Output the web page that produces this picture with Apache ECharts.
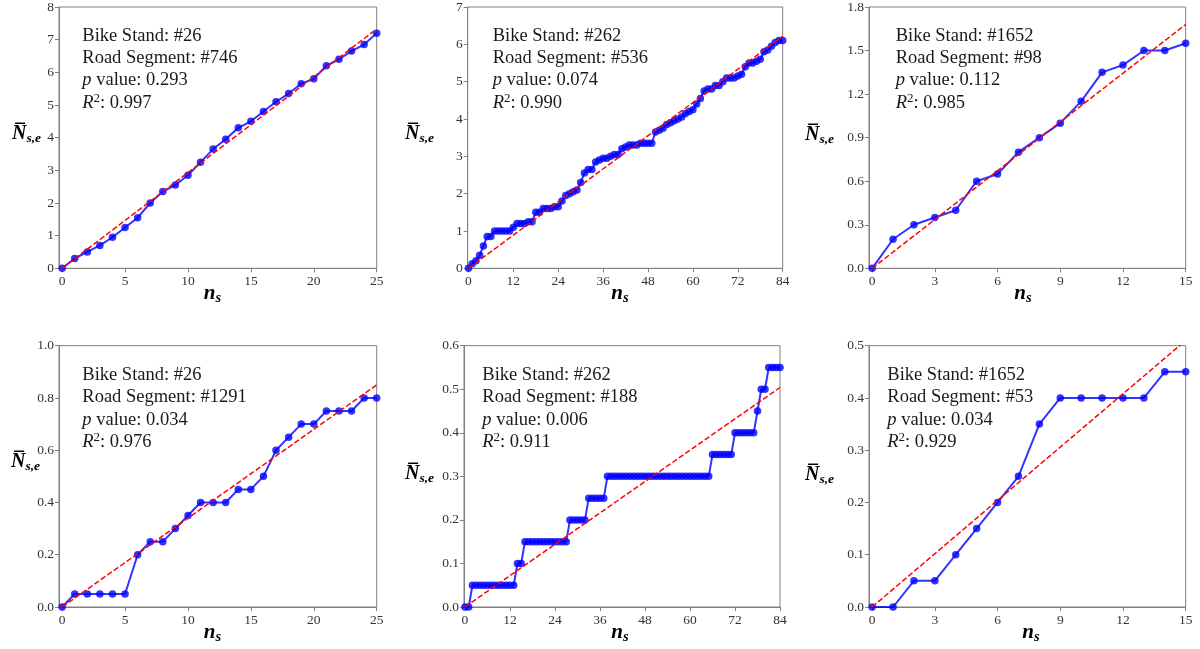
<!DOCTYPE html>
<html><head><meta charset="utf-8">
<script src="https://cdn.jsdelivr.net/npm/echarts@6/dist/echarts.min.js"></script>
<style>html,body{margin:0;padding:0;background:#fff}#c{width:1200px;height:649px}</style>
</head><body><div id="c"></div>
<script>
// ---------- data ----------
const bikeStands   = ['#26', '#262', '#1652', '#26', '#262', '#1652'];
const roadSegments = ['#746', '#536', '#98', '#1291', '#188', '#53'];
const pValues      = ['0.293', '0.074', '0.112', '0.034', '0.006', '0.034'];
const rSquared     = ['0.997', '0.990', '0.985', '0.976', '0.911', '0.929'];
const fitSlopes    = [0.293, 0.074, 0.112, 0.034, 0.006, 0.034];

const xTicks25 = [0, 5, 10, 15, 20, 25];
const xTicks84 = [0, 12, 24, 36, 48, 60, 72, 84];
const xTicks15 = [0, 3, 6, 9, 12, 15];

const yTicksA = [0, 1, 2, 3, 4, 5, 6, 7, 8];
const yTicksB = [0, 1, 2, 3, 4, 5, 6, 7];
const yTicksC = [0, 0.3, 0.6, 0.9, 1.2, 1.5, 1.8];
const yTicksD = [0, 0.2, 0.4, 0.6, 0.8, 1.0];
const yTicksE = [0, 0.1, 0.2, 0.3, 0.4, 0.5, 0.6];
const yTicksF = [0, 0.1, 0.2, 0.3, 0.4, 0.5];

// mean N_{s,e} for n_s = 0,1,2,...
const stand26seg746 = [0, 0.3, 0.5, 0.7, 0.95, 1.25, 1.55, 2.0, 2.35, 2.55, 2.85, 3.25, 3.65,
  3.95, 4.3, 4.5, 4.8, 5.1, 5.35, 5.65, 5.8, 6.2, 6.4, 6.65, 6.85, 7.2];
const stand262seg536 = [0, 0.12, 0.2, 0.35, 0.6, 0.85, 0.85, 1.0, 1.0, 1.0, 1.0, 1.0, 1.1,
  1.2, 1.2, 1.2, 1.25, 1.25, 1.5, 1.5, 1.6, 1.6, 1.6, 1.65, 1.65, 1.8, 1.95, 2.0, 2.05, 2.1,
  2.3, 2.55, 2.65, 2.65, 2.85, 2.9, 2.95, 2.95, 3.0, 3.05, 3.05, 3.2, 3.25, 3.3, 3.3, 3.3,
  3.35, 3.35, 3.35, 3.35, 3.65, 3.7, 3.75, 3.85, 3.9, 3.95, 4.0, 4.05, 4.15, 4.2, 4.25, 4.4,
  4.55, 4.75, 4.8, 4.8, 4.9, 4.9, 5.0, 5.1, 5.1, 5.1, 5.15, 5.2, 5.4, 5.5, 5.5, 5.55, 5.6,
  5.8, 5.85, 5.95, 6.05, 6.1, 6.1];
const stand1652seg98 = [0, 0.2, 0.3, 0.35, 0.4, 0.6, 0.65, 0.8, 0.9, 1.0, 1.15, 1.35, 1.4,
  1.5, 1.5, 1.55];
const stand26seg1291 = [0, 0.05, 0.05, 0.05, 0.05, 0.05, 0.2, 0.25, 0.25, 0.3, 0.35, 0.4, 0.4,
  0.4, 0.45, 0.45, 0.5, 0.6, 0.65, 0.7, 0.7, 0.75, 0.75, 0.75, 0.8, 0.8];
const stand262seg188 = [0, 0,
  0.05, 0.05, 0.05, 0.05, 0.05, 0.05, 0.05, 0.05, 0.05, 0.05, 0.05, 0.05,
  0.1, 0.1,
  0.15, 0.15, 0.15, 0.15, 0.15, 0.15, 0.15, 0.15, 0.15, 0.15, 0.15, 0.15,
  0.2, 0.2, 0.2, 0.2, 0.2,
  0.25, 0.25, 0.25, 0.25, 0.25,
  0.3, 0.3, 0.3, 0.3, 0.3, 0.3, 0.3, 0.3, 0.3, 0.3, 0.3, 0.3, 0.3, 0.3,
  0.3, 0.3, 0.3, 0.3, 0.3, 0.3, 0.3, 0.3, 0.3, 0.3, 0.3, 0.3, 0.3, 0.3,
  0.35, 0.35, 0.35, 0.35, 0.35, 0.35,
  0.4, 0.4, 0.4, 0.4, 0.4, 0.4,
  0.45,
  0.5, 0.5,
  0.55, 0.55, 0.55, 0.55];
const stand1652seg53 = [0, 0, 0.05, 0.05, 0.1, 0.15, 0.2, 0.25, 0.35, 0.4, 0.4, 0.4, 0.4,
  0.4, 0.45, 0.45];

// ---------- layout / style ----------
const panels = [
  {vals: stand26seg746,  xt: xTicks25, yt: yTicksA, dec: 0, xmin: -0.25},
  {vals: stand262seg536, xt: xTicks84, yt: yTicksB, dec: 0, xmin: -0.2},
  {vals: stand1652seg98, xt: xTicks15, yt: yTicksC, dec: 1, xmin: -0.15},
  {vals: stand26seg1291, xt: xTicks25, yt: yTicksD, dec: 1, xmin: -0.25},
  {vals: stand262seg188, xt: xTicks84, yt: yTicksE, dec: 1, xmin: -0.25},
  {vals: stand1652seg53, xt: xTicks15, yt: yTicksF, dec: 1, xmin: -0.15}
];
const grids = [
  {left: 59,    top: 6.7,   width: 317.7, height: 261.6},
  {left: 467.7, top: 6.7,   width: 315,   height: 261.6},
  {left: 869,   top: 6.7,   width: 316.7, height: 261.6},
  {left: 59,    top: 345.7, width: 317.7, height: 261.3},
  {left: 464,   top: 345.7, width: 316,   height: 261.3},
  {left: 869,   top: 345.7, width: 316.7, height: 261.3}
];
const annotPos = [[82.3, 24.5], [492.7, 24.5], [895.7, 24.5], [82.3, 363.8], [482.3, 363.8], [887.3, 363.8]];
const yLabPos  = [[12, 134], [405, 134], [805, 135], [11, 462], [405, 474], [805, 475]];
const xLabPos  = [[212.5, 294], [620, 294], [1023, 294], [212.5, 633], [620, 633], [1031, 633]];

const SERIF = '"Liberation Serif", "Times New Roman", serif';
const SPINE = '#808080';
const BLUE = 'rgba(0,0,255,0.8)';

const option = {
  animation: false,
  backgroundColor: '#fff',
  grid: grids.map(g => Object.assign({show: true, borderColor: SPINE, borderWidth: 1, backgroundColor: 'transparent'}, g)),
  xAxis: panels.map((p, i) => ({
    gridIndex: i, type: 'value', min: p.xmin, max: p.xt[p.xt.length - 1],
    axisLine: {show: true, onZero: false, lineStyle: {color: SPINE, width: 1}},
    axisTick: {show: true, inside: false, length: 4, customValues: p.xt, lineStyle: {color: SPINE}},
    axisLabel: {customValues: p.xt, fontFamily: SERIF, fontSize: 13.5, color: '#333', margin: 6,
      formatter: v => String(Math.round(v))},
    splitLine: {show: false}
  })),
  yAxis: panels.map((p, i) => ({
    gridIndex: i, type: 'value', min: p.yt[0], max: p.yt[p.yt.length - 1],
    interval: p.yt[1] - p.yt[0],
    axisLine: {show: true, onZero: false, lineStyle: {color: SPINE, width: 1}},
    axisTick: {show: true, inside: false, length: 4, lineStyle: {color: SPINE}},
    axisLabel: {fontFamily: SERIF, fontSize: 13.5, color: '#333', margin: 5,
      formatter: v => v.toFixed(p.dec)},
    splitLine: {show: false}
  })),
  series: [],
  graphic: []
};

panels.forEach((p, i) => {
  option.series.push({
    type: 'line', xAxisIndex: i, yAxisIndex: i, z: 2,
    data: p.vals.map((v, k) => [k, v]),
    symbol: 'circle', symbolSize: 7.5, showSymbol: true,
    lineStyle: {color: BLUE, width: 2},
    itemStyle: {color: BLUE, borderWidth: 0},
    emphasis: {disabled: true}
  });
  const xmax = p.xt[p.xt.length - 1];
  option.series.push({
    type: 'line', xAxisIndex: i, yAxisIndex: i, z: 3, clip: true,
    data: [[0, 0], [xmax, fitSlopes[i] * xmax]],
    symbol: 'none',
    lineStyle: {color: '#ff0000', width: 1.5, type: [5.5, 2.4]},
    emphasis: {disabled: true}
  });

  const base = {fontFamily: SERIF, fontSize: 18.5, lineHeight: 22.4, fill: '#1a1a1a', color: '#1a1a1a'};
  option.graphic.push({
    type: 'text', x: annotPos[i][0], y: annotPos[i][1], z: 10,
    style: {
      text: '{a|Bike Stand: ' + bikeStands[i] + '}\n{a|Road Segment: ' + roadSegments[i] + '}\n' +
            '{i|p}{a| value: ' + pValues[i] + '}\n{i|R}{sup|2}{a|: ' + rSquared[i] + '}',
      align: 'left', verticalAlign: 'top',
      rich: {
        a: base,
        i: Object.assign({}, base, {fontStyle: 'italic'}),
        sup: Object.assign({}, base, {fontSize: 13, lineHeight: 15, verticalAlign: 'top'})
      }
    }
  });
  const lab = {fontFamily: SERIF, fontWeight: 'bold', fontStyle: 'italic', fill: '#000', color: '#000'};
  option.graphic.push({
    type: 'text', x: yLabPos[i][0], y: yLabPos[i][1], z: 10,
    style: {
      text: '{n|N\u0305}{s|s,e}', align: 'left', verticalAlign: 'middle',
      rich: {
        n: Object.assign({}, lab, {fontSize: 20, lineHeight: 24}),
        s: Object.assign({}, lab, {fontSize: 13.5, lineHeight: 12, verticalAlign: 'bottom'})
      }
    }
  });
  option.graphic.push({
    type: 'text', x: xLabPos[i][0], y: xLabPos[i][1], z: 10,
    style: {
      text: '{n|n}{s|s}', align: 'center', verticalAlign: 'middle',
      rich: {
        n: Object.assign({}, lab, {fontSize: 21, lineHeight: 24}),
        s: Object.assign({}, lab, {fontSize: 14.5, lineHeight: 12, verticalAlign: 'bottom'})
      }
    }
  });
});

const chart = echarts.init(document.getElementById('c'), null, {renderer: 'canvas'});
chart.setOption(option);
</script>
</body></html>
